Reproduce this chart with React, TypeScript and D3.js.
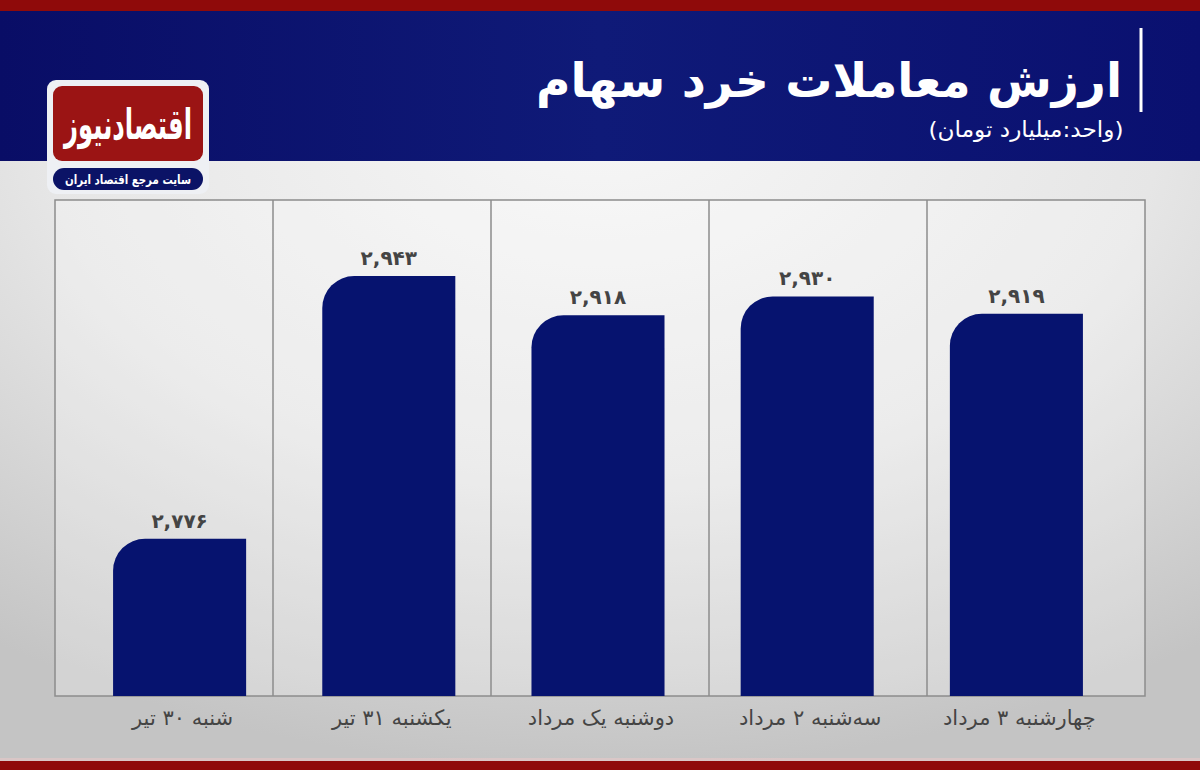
import React from "react";
import * as d3 from "d3";

const categories: string[] = [
  "شنبه ۳۰ تیر",
  "یکشنبه ۳۱ تیر",
  "دوشنبه یک مرداد",
  "سه‌شنبه ۲ مرداد",
  "چهارشنبه ۳ مرداد",
];
const values: number[] = [2776, 2943, 2918, 2930, 2919];
const title = "ارزش معاملات خرد سهام";
const subtitle = "(واحد:میلیارد تومان)";
const logoMain = "اقتصادنیوز";
const logoSub = "سایت مرجع اقتصاد ایران";

const W = 1200;
const H = 770;
const FONT = "'DejaVu Sans', 'Noto Sans', sans-serif";
const NAVY = "#06136f";
const RED = "#8f0a0a";
const TEXT_GRAY = "#444444";

const toPersian = (s: string) =>
  s.replace(/[0-9]/g, (d) => "۰۱۲۳۴۵۶۷۸۹"[+d]);
const fmt = d3.format(",");

const panel = { left: 55, right: 1145, top: 200, bottom: 696 };

export default function App() {
  const x = d3
    .scaleBand<string>()
    .domain(categories)
    .range([75, 1121])
    .paddingInner(0.364)
    .paddingOuter(0.182);
  const y = d3.scaleLinear().domain([2676, 2943]).range([panel.bottom, 276]);

  const cols = d3
    .scaleBand<string>()
    .domain(categories)
    .range([panel.left, panel.right]);

  const r = 32;
  const barPath = (cat: string, v: number) => {
    const x0 = x(cat)!;
    const w = x.bandwidth();
    const top = y(v);
    const bot = y(y.domain()[0]);
    const p = d3.path();
    p.moveTo(x0, bot);
    p.lineTo(x0, top + r);
    p.arcTo(x0, top, x0 + r, top, r);
    p.lineTo(x0 + w, top);
    p.lineTo(x0 + w, bot);
    p.closePath();
    return p.toString();
  };

  return (
    <svg
      width={W}
      height={H}
      viewBox={`0 0 ${W} ${H}`}
      style={{ position: "absolute", left: 0, top: 0, display: "block" }}
    >
      <defs>
        <radialGradient id="bgGrad" cx="50%" cy="15%" r="85%">
          <stop offset="0%" stopColor="#f7f7f7" />
          <stop offset="55%" stopColor="#e6e6e6" />
          <stop offset="100%" stopColor="#c4c4c4" />
        </radialGradient>
        <linearGradient id="navyGrad" x1="0" y1="0" x2="1" y2="0">
          <stop offset="0%" stopColor="#090d66" />
          <stop offset="50%" stopColor="#0f1a78" />
          <stop offset="100%" stopColor="#0a1070" />
        </linearGradient>
      </defs>

      {/* backgrounds */}
      <rect x={0} y={0} width={W} height={H} fill="url(#bgGrad)" />
      <rect x={0} y={10} width={W} height={151} fill="url(#navyGrad)" />
      <rect x={0} y={0} width={W} height={11} fill={RED} />
      <rect x={0} y={761} width={W} height={9} fill={RED} />
      <rect x={0} y={758} width={W} height={3} fill="#e8c8c8" opacity={0.6} />

      {/* title block */}
      <line x1={1141} x2={1141} y1={28} y2={112} stroke="#fff" strokeWidth={3} />
      <text
        x={829}
        y={97}
        textAnchor="middle"
        direction="rtl"
        fontFamily={FONT}
        fontWeight="bold"
        fontSize={47}
        fill="#fff"
      >
        {title}
      </text>
      <text
        x={1026}
        y={137}
        textAnchor="middle"
        direction="rtl"
        fontFamily={FONT}
        fontSize={22}
        fill="#fff"
        textLength={195}
        lengthAdjust="spacingAndGlyphs"
      >
        {subtitle}
      </text>

      {/* logo */}
      <rect x={47} y={80} width={162} height={114} rx={9} fill="#eef0f4" />
      <rect x={53} y={86} width={150} height={75} rx={9} fill="#9b1414" />
      <text
        x={128}
        y={139}
        textAnchor="middle"
        direction="rtl"
        fontFamily={FONT}
        fontWeight="bold"
        fontSize={42}
        fill="#fff"
        textLength={128}
        lengthAdjust="spacingAndGlyphs"
      >
        {logoMain}
      </text>
      <rect x={53} y={168} width={150} height={22} rx={11} fill="#0b1366" />
      <text
        x={128}
        y={184}
        textAnchor="middle"
        direction="rtl"
        fontFamily={FONT}
        fontWeight="bold"
        fontSize={13}
        fill="#fff"
        textLength={126}
        lengthAdjust="spacingAndGlyphs"
      >
        {logoSub}
      </text>

      {/* panel */}
      <rect
        x={panel.left}
        y={panel.top}
        width={panel.right - panel.left}
        height={panel.bottom - panel.top}
        fill="#ffffff"
        fillOpacity={0.25}
        stroke="#8c8c8c"
        strokeWidth={1.5}
      />
      {categories.slice(1).map((c) => (
        <line
          key={c}
          x1={cols(c)!}
          x2={cols(c)!}
          y1={panel.top}
          y2={panel.bottom}
          stroke="#8c8c8c"
          strokeWidth={1.5}
        />
      ))}

      {/* bars */}
      {categories.map((c, i) => (
        <path key={c} d={barPath(c, values[i])} fill={NAVY} />
      ))}

      {/* value labels */}
      {categories.map((c, i) => (
        <text
          key={c}
          x={x(c)! + x.bandwidth() / 2}
          y={y(values[i]) - 11}
          textAnchor="middle"
          fontFamily={FONT}
          fontWeight="bold"
          fontSize={20}
          fill={TEXT_GRAY}
        >
          {toPersian(fmt(values[i]))}
        </text>
      ))}

      {/* category labels */}
      {categories.map((c) => (
        <text
          key={c}
          x={x(c)! + x.bandwidth() / 2 + 3}
          y={725}
          textAnchor="middle"
          direction="rtl"
          fontFamily={FONT}
          fontSize={21}
          fill={TEXT_GRAY}
        >
          {c}
        </text>
      ))}
    </svg>
  );
}
